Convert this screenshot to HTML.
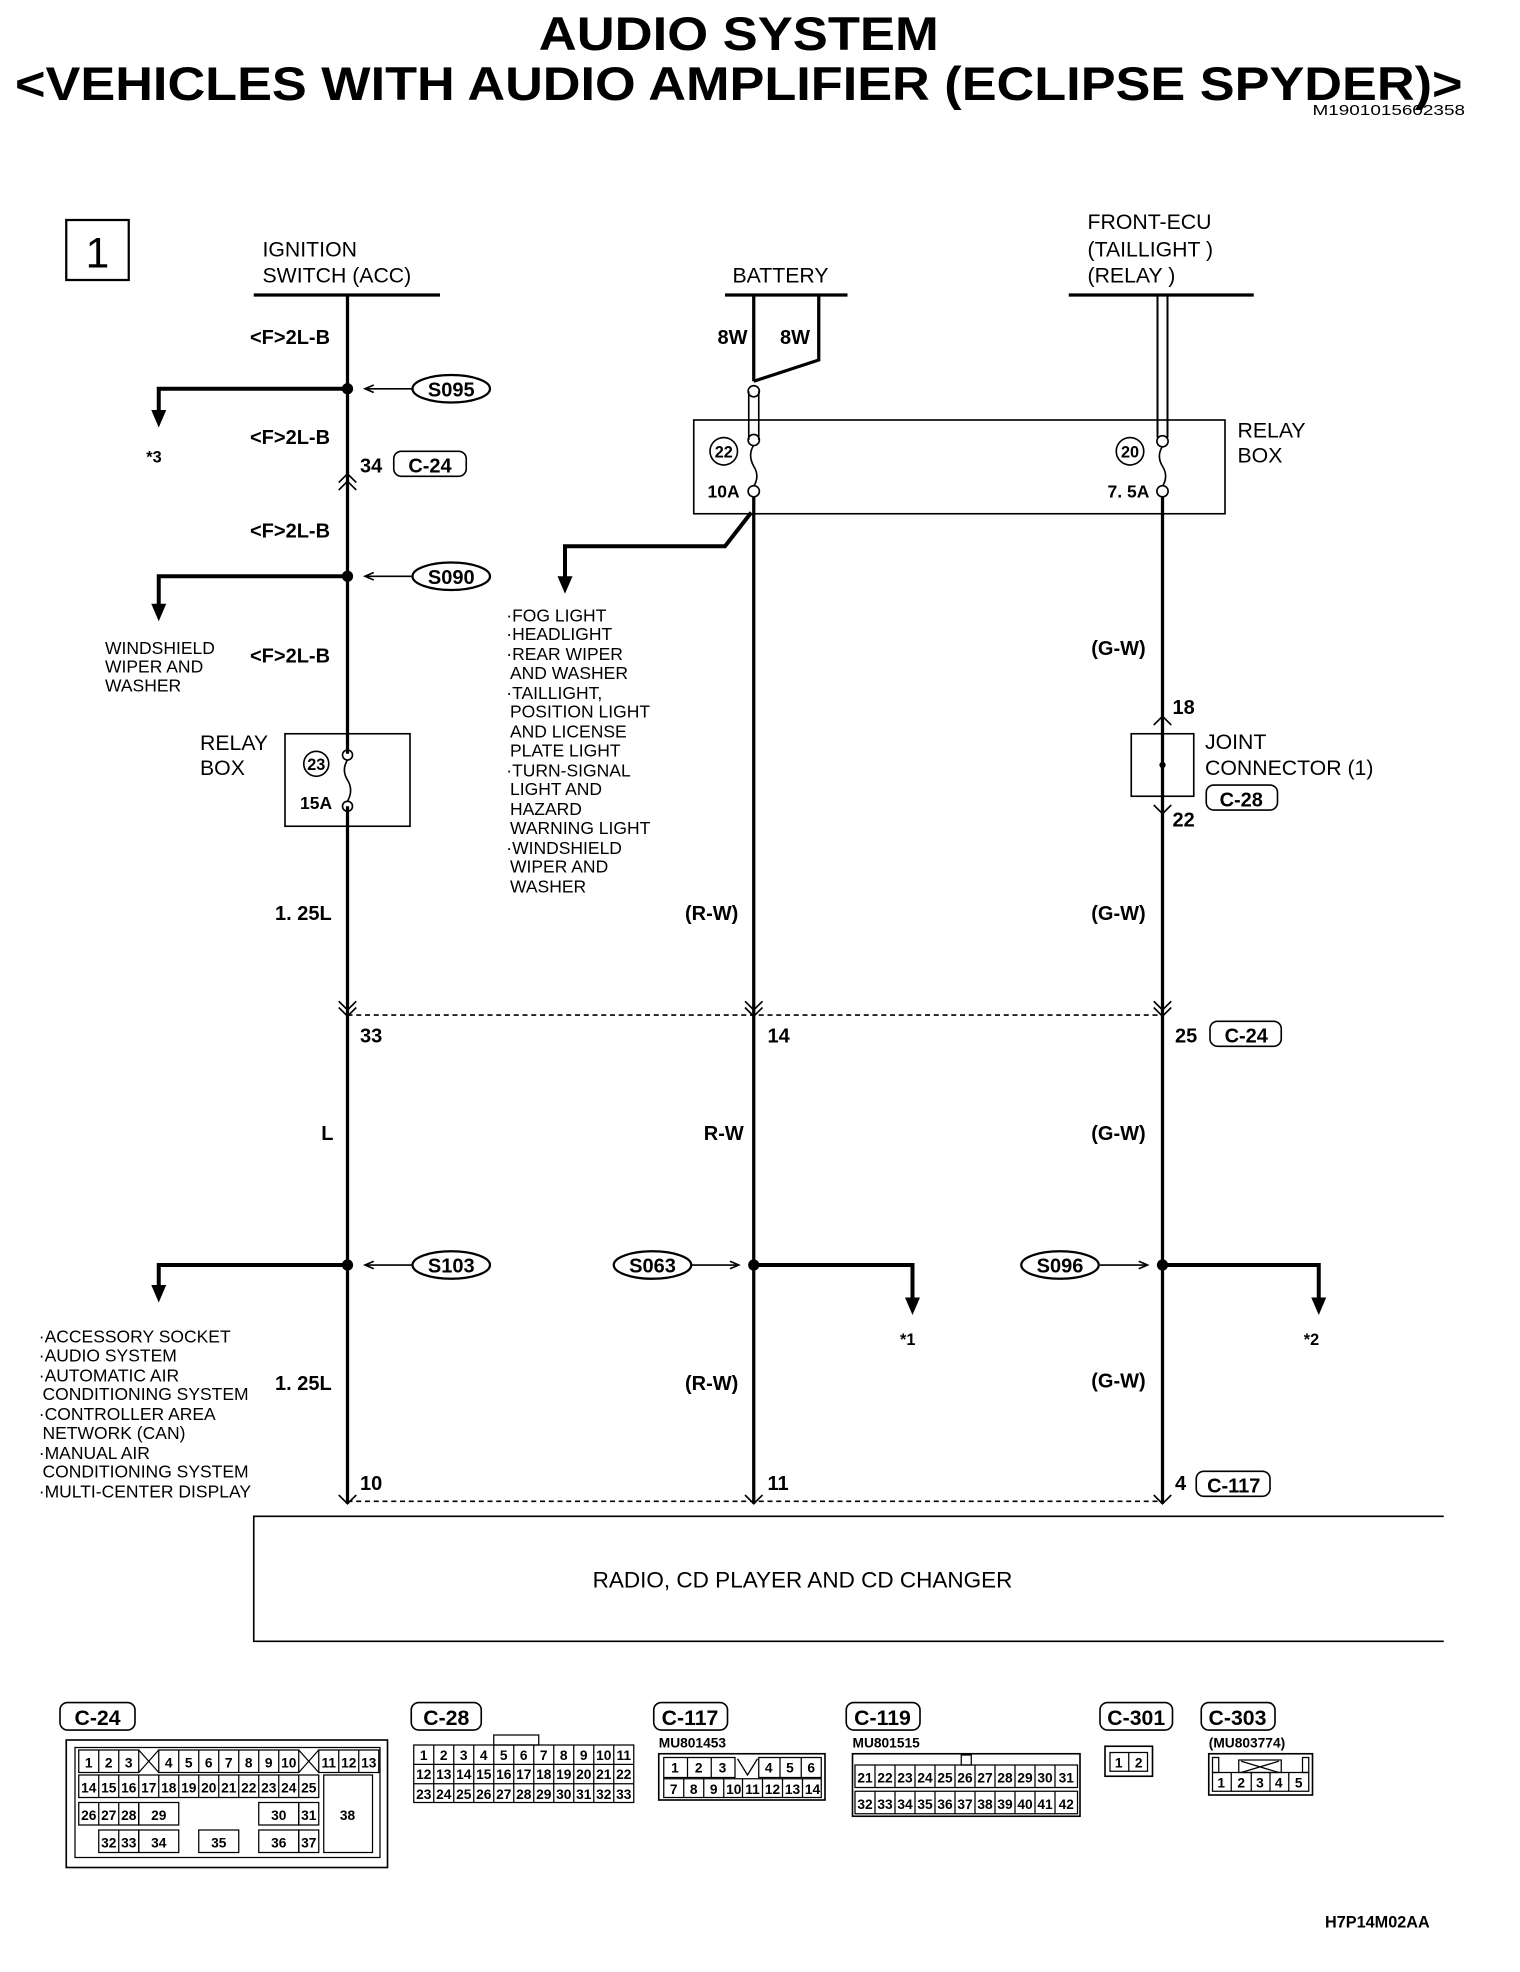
<!DOCTYPE html>
<html><head><meta charset="utf-8"><style>
html,body{margin:0;padding:0;background:#fff;}
svg{display:block;}
text{font-family:"Liberation Sans",sans-serif;fill:#000;}
.b{font-weight:bold;font-size:16px;}
.n{font-size:14px;}
.c{font-weight:bold;font-size:11px;text-anchor:middle;}
.w{stroke:#000;stroke-width:2.6;fill:none;}
.t{stroke:#000;stroke-width:1.3;fill:none;}
.k{stroke:#000;stroke-width:3.2;fill:none;}
</style></head><body>
<svg width="1520" height="1972" viewBox="0 0 1216 1577.6" xmlns="http://www.w3.org/2000/svg">
<rect width="1216" height="1578" fill="#fff"/>
<!-- title -->
<text x="591" y="40" text-anchor="middle" style="font-weight:bold;font-size:38px" textLength="320" lengthAdjust="spacingAndGlyphs">AUDIO SYSTEM</text>
<text x="12" y="80" style="font-weight:bold;font-size:38px" textLength="1158" lengthAdjust="spacingAndGlyphs">&lt;VEHICLES WITH AUDIO AMPLIFIER (ECLIPSE SPYDER)&gt;</text>
<text x="1050" y="92" style="font-size:12px" textLength="122" lengthAdjust="spacingAndGlyphs">M1901015602358</text>
<rect x="53" y="176" width="50" height="48" class="t" style="stroke-width:1.8"/>
<text x="78" y="214" text-anchor="middle" style="font-size:34px">1</text>

<!-- headers -->
<text x="210" y="205" class="n" style="font-size:17px">IGNITION</text>
<text x="210" y="226" class="n" style="font-size:17px">SWITCH (ACC)</text>
<line x1="203" y1="236" x2="352" y2="236" class="w"/>
<text x="586" y="226" class="n" style="font-size:17px">BATTERY</text>
<line x1="580" y1="236" x2="678" y2="236" class="w"/>
<text x="870" y="183" class="n" style="font-size:17px">FRONT-ECU</text>
<text x="870" y="205" class="n" style="font-size:17px">(TAILLIGHT )</text>
<text x="870" y="226" class="n" style="font-size:17px">(RELAY )</text>
<line x1="855" y1="236" x2="1003" y2="236" class="w"/>

<!-- wire 1 -->
<line x1="278" y1="236" x2="278" y2="603" class="w"/>
<line x1="278" y1="645" x2="278" y2="1203" class="w"/>
<text x="200" y="275" class="b">&lt;F&gt;2L-B</text>
<circle cx="278" cy="311" r="4.5"/>
<polyline points="278,311 127,311 127,330" class="k"/><polygon points="121,328 133,328 127,342"/>
<text x="117" y="370" class="b" style="font-size:13px">*3</text>
<line x1="293" y1="311" x2="330" y2="311" class="t"/><polyline points="299,308 292,311 299,314" class="t"/>
<ellipse cx="361" cy="311" rx="31" ry="11" class="t" style="stroke-width:1.8"/><text x="361" y="317" text-anchor="middle" class="b">S095</text>
<text x="200" y="355" class="b">&lt;F&gt;2L-B</text>
<text x="288" y="378" class="b">34</text>
<rect x="315" y="361" width="58" height="20" rx="6" class="t"/><text x="344" y="378" text-anchor="middle" class="b">C-24</text>
<polyline points="271,386 278,379 285,386" class="t"/><polyline points="271,392 278,385 285,392" class="t"/>
<text x="200" y="430" class="b">&lt;F&gt;2L-B</text>
<circle cx="278" cy="461" r="4.5"/>
<polyline points="278,461 127,461 127,485" class="k"/><polygon points="121,483 133,483 127,497"/>
<line x1="293" y1="461" x2="330" y2="461" class="t"/><polyline points="299,458 292,461 299,464" class="t"/>
<ellipse cx="361" cy="461" rx="31" ry="11" class="t" style="stroke-width:1.8"/><text x="361" y="467" text-anchor="middle" class="b">S090</text>
<text x="84" y="523" class="n">WINDSHIELD</text><text x="84" y="538" class="n">WIPER AND</text><text x="84" y="553" class="n">WASHER</text>
<text x="200" y="530" class="b">&lt;F&gt;2L-B</text>
<text x="160" y="600" class="n" style="font-size:17px">RELAY</text><text x="160" y="620" class="n" style="font-size:17px">BOX</text>
<rect x="228" y="587" width="100" height="74" class="t"/>
<circle cx="253" cy="611" r="10" class="t"/><text x="253" y="616" text-anchor="middle" class="b" style="font-size:13px">23</text>
<text x="240" y="647" class="b" style="font-size:14px">15A</text>
<circle cx="278" cy="604" r="4" class="t"/><circle cx="278" cy="645" r="4" class="t"/>
<path d="M278,608 q-5,8 0,16 q5,8 0,17" class="t"/>
<text x="220" y="736" class="b">1. 25L</text>

<!-- wire 2 -->
<line x1="603" y1="236" x2="603" y2="305" class="w"/>
<polyline points="655,236 655,288 603,305" class="w"/>
<text x="574" y="275" class="b">8W</text><text x="624" y="275" class="b">8W</text>
<rect x="555" y="336" width="425" height="75" class="t"/>
<circle cx="603" cy="313" r="4.5" class="t"/><circle cx="603" cy="352" r="4.5" class="t"/>
<line x1="599" y1="313" x2="599" y2="352" class="t"/><line x1="607" y1="313" x2="607" y2="352" class="t"/>
<circle cx="603" cy="393" r="4.5" class="t"/>
<path d="M603,356 q-5,8 0,17 q5,8 0,16" class="t"/>
<circle cx="579" cy="361" r="11" class="t"/><text x="579" y="366" text-anchor="middle" class="b" style="font-size:13px">22</text>
<text x="566" y="398" class="b" style="font-size:14px">10A</text>
<line x1="603" y1="397" x2="603" y2="1203" class="w"/>
<polyline points="601,410 580,437 452,437 452,463" class="k"/><polygon points="446,461 458,461 452,475"/>
<g class="n">
<text x="405" y="497">·FOG LIGHT</text><text x="405" y="512">·HEADLIGHT</text><text x="405" y="528">·REAR WIPER</text><text x="408" y="543">AND WASHER</text>
<text x="405" y="559">·TAILLIGHT,</text><text x="408" y="574">POSITION LIGHT</text><text x="408" y="590">AND LICENSE</text><text x="408" y="605">PLATE LIGHT</text>
<text x="405" y="621">·TURN-SIGNAL</text><text x="408" y="636">LIGHT AND</text><text x="408" y="652">HAZARD</text><text x="408" y="667">WARNING LIGHT</text>
<text x="405" y="683">·WINDSHIELD</text><text x="408" y="698">WIPER AND</text><text x="408" y="714">WASHER</text>
</g>
<text x="548" y="736" class="b">(R-W)</text>

<!-- wire 3 -->
<line x1="926" y1="236" x2="926" y2="350" class="t" style="stroke-width:1.6"/><line x1="934" y1="236" x2="934" y2="350" class="t" style="stroke-width:1.6"/>
<circle cx="930" cy="353" r="4.5" class="t"/>
<circle cx="930" cy="393" r="4.5" class="t"/>
<path d="M930,357 q-5,8 0,16 q5,8 0,16" class="t"/>
<circle cx="904" cy="361" r="11" class="t"/><text x="904" y="366" text-anchor="middle" class="b" style="font-size:13px">20</text>
<text x="886" y="398" class="b" style="font-size:14px">7. 5A</text>
<text x="990" y="350" class="n" style="font-size:17px">RELAY</text><text x="990" y="370" class="n" style="font-size:17px">BOX</text>
<line x1="930" y1="397" x2="930" y2="1203" class="w"/>
<text x="873" y="524" class="b">(G-W)</text>
<text x="938" y="571" class="b">18</text>
<polyline points="923,580 930,573 937,580" class="t"/>
<rect x="905" y="587" width="50" height="50" class="t" fill="#fff"/><circle cx="930" cy="612" r="2.5"/>
<polyline points="923,644 930,651 937,644" class="t"/>
<text x="938" y="661" class="b">22</text>
<text x="964" y="599" class="n" style="font-size:17px">JOINT</text><text x="964" y="620" class="n" style="font-size:17px">CONNECTOR (1)</text>
<rect x="965" y="628" width="57" height="20" rx="6" class="t"/><text x="993" y="645" text-anchor="middle" class="b">C-28</text>
<text x="873" y="736" class="b">(G-W)</text>

<!-- connector C-24 line -->
<line x1="278" y1="812" x2="930" y2="812" class="t" stroke-dasharray="4,3"/>
<g class="t">
<polyline points="271,806 278,813 285,806"/><polyline points="271,801 278,808 285,801"/>
<polyline points="596,806 603,813 610,806"/><polyline points="596,801 603,808 610,801"/>
<polyline points="923,806 930,813 937,806"/><polyline points="923,801 930,808 937,801"/>
</g>
<text x="288" y="834" class="b">33</text><text x="614" y="834" class="b">14</text><text x="940" y="834" class="b">25</text>
<rect x="968" y="817" width="57" height="20" rx="6" class="t"/><text x="997" y="834" text-anchor="middle" class="b">C-24</text>
<text x="257" y="912" class="b">L</text><text x="563" y="912" class="b">R-W</text><text x="873" y="912" class="b">(G-W)</text>

<!-- splices lower -->
<circle cx="278" cy="1012" r="4.5"/>
<polyline points="278,1012 127,1012 127,1030" class="k"/><polygon points="121,1028 133,1028 127,1042"/>
<line x1="293" y1="1012" x2="330" y2="1012" class="t"/><polyline points="299,1009 292,1012 299,1015" class="t"/>
<ellipse cx="361" cy="1012" rx="31" ry="11" class="t" style="stroke-width:1.8"/><text x="361" y="1018" text-anchor="middle" class="b">S103</text>
<circle cx="603" cy="1012" r="4.5"/>
<polyline points="603,1012 730,1012 730,1040" class="k"/><polygon points="724,1038 736,1038 730,1052"/>
<text x="720" y="1076" class="b" style="font-size:13px">*1</text>
<line x1="553" y1="1012" x2="590" y2="1012" class="t"/><polyline points="584,1009 591,1012 584,1015" class="t"/>
<ellipse cx="522" cy="1012" rx="31" ry="11" class="t" style="stroke-width:1.8"/><text x="522" y="1018" text-anchor="middle" class="b">S063</text>
<circle cx="930" cy="1012" r="4.5"/>
<polyline points="930,1012 1055,1012 1055,1040" class="k"/><polygon points="1049,1038 1061,1038 1055,1052"/>
<text x="1043" y="1076" class="b" style="font-size:13px">*2</text>
<line x1="880" y1="1012" x2="917" y2="1012" class="t"/><polyline points="911,1009 918,1012 911,1015" class="t"/>
<ellipse cx="848" cy="1012" rx="31" ry="11" class="t" style="stroke-width:1.8"/><text x="848" y="1018" text-anchor="middle" class="b">S096</text>
<g class="n">
<text x="31" y="1074">·ACCESSORY SOCKET</text><text x="31" y="1089">·AUDIO SYSTEM</text><text x="31" y="1105">·AUTOMATIC AIR</text>
<text x="34" y="1120">CONDITIONING SYSTEM</text><text x="31" y="1136">·CONTROLLER AREA</text><text x="34" y="1151">NETWORK (CAN)</text>
<text x="31" y="1167">·MANUAL AIR</text><text x="34" y="1182">CONDITIONING SYSTEM</text><text x="31" y="1198">·MULTI-CENTER DISPLAY</text>
</g>
<text x="220" y="1112" class="b">1. 25L</text><text x="548" y="1112" class="b">(R-W)</text><text x="873" y="1110" class="b">(G-W)</text>
<text x="288" y="1192" class="b">10</text><text x="614" y="1192" class="b">11</text><text x="940" y="1192" class="b">4</text>
<rect x="957" y="1177" width="59" height="20" rx="6" class="t"/><text x="987" y="1194" text-anchor="middle" class="b">C-117</text>
<line x1="278" y1="1201" x2="930" y2="1201" class="t" stroke-dasharray="4,3"/>
<g class="t">
<polyline points="271,1196 278,1203 285,1196"/><polyline points="596,1196 603,1203 610,1196"/><polyline points="923,1196 930,1203 937,1196"/>
</g>
<polyline points="1155,1213 203,1213 203,1313 1155,1313" class="t"/>
<text x="642" y="1270" text-anchor="middle" class="n" style="font-size:18px">RADIO, CD PLAYER AND CD CHANGER</text>

<!-- connector labels -->
<g>
<rect x="48" y="1362" width="60" height="22" rx="6" class="t"/><text x="78" y="1380" text-anchor="middle" class="b" style="font-size:17px">C-24</text>
<rect x="329" y="1362" width="56" height="22" rx="6" class="t"/><text x="357" y="1380" text-anchor="middle" class="b" style="font-size:17px">C-28</text>
<rect x="523" y="1362" width="59" height="22" rx="6" class="t"/><text x="552" y="1380" text-anchor="middle" class="b" style="font-size:17px">C-117</text>
<rect x="677" y="1362" width="59" height="22" rx="6" class="t"/><text x="706" y="1380" text-anchor="middle" class="b" style="font-size:17px">C-119</text>
<rect x="880" y="1362" width="58" height="22" rx="6" class="t"/><text x="909" y="1380" text-anchor="middle" class="b" style="font-size:17px">C-301</text>
<rect x="961" y="1362" width="59" height="22" rx="6" class="t"/><text x="990" y="1380" text-anchor="middle" class="b" style="font-size:17px">C-303</text>
</g>

<!-- C-24 connector -->
<rect x="53" y="1392" width="257" height="102" class="t"/>
<rect x="60" y="1398" width="244" height="88" class="t" style="stroke-width:1"/>
<g class="t" style="stroke-width:1">
<rect x="63" y="1400" width="48" height="18"/><rect x="127" y="1400" width="112" height="18"/><rect x="255" y="1400" width="48" height="18"/>
<path d="M79,1400v18M95,1400v18M143,1400v18M159,1400v18M175,1400v18M191,1400v18M207,1400v18M223,1400v18M271,1400v18M287,1400v18"/>
<path d="M111,1400l16,18M127,1400l-16,18M239,1400l16,18M255,1400l-16,18"/>
<rect x="63" y="1420" width="192" height="18"/>
<path d="M79,1420v18M95,1420v18M111,1420v18M127,1420v18M143,1420v18M159,1420v18M175,1420v18M191,1420v18M207,1420v18M223,1420v18M239,1420v18"/>
<rect x="63" y="1442" width="48" height="18"/><path d="M79,1442v18M95,1442v18"/>
<rect x="111" y="1442" width="32" height="18"/><rect x="207" y="1442" width="32" height="18"/><rect x="239" y="1442" width="16" height="18"/>
<rect x="79" y="1464" width="32" height="18"/><path d="M95,1464v18"/>
<rect x="111" y="1464" width="32" height="18"/><rect x="159" y="1464" width="32" height="18"/><rect x="207" y="1464" width="32" height="18"/><rect x="239" y="1464" width="16" height="18"/>
<rect x="259" y="1420" width="39" height="62"/>
</g>
<g class="c">
<text x="71" y="1414">1</text><text x="87" y="1414">2</text><text x="103" y="1414">3</text><text x="135" y="1414">4</text><text x="151" y="1414">5</text><text x="167" y="1414">6</text><text x="183" y="1414">7</text><text x="199" y="1414">8</text><text x="215" y="1414">9</text><text x="231" y="1414">10</text><text x="263" y="1414">11</text><text x="279" y="1414">12</text><text x="295" y="1414">13</text>
<text x="71" y="1434">14</text><text x="87" y="1434">15</text><text x="103" y="1434">16</text><text x="119" y="1434">17</text><text x="135" y="1434">18</text><text x="151" y="1434">19</text><text x="167" y="1434">20</text><text x="183" y="1434">21</text><text x="199" y="1434">22</text><text x="215" y="1434">23</text><text x="231" y="1434">24</text><text x="247" y="1434">25</text>
<text x="71" y="1456">26</text><text x="87" y="1456">27</text><text x="103" y="1456">28</text><text x="127" y="1456">29</text><text x="223" y="1456">30</text><text x="247" y="1456">31</text>
<text x="87" y="1478">32</text><text x="103" y="1478">33</text><text x="127" y="1478">34</text><text x="175" y="1478">35</text><text x="223" y="1478">36</text><text x="247" y="1478">37</text>
<text x="278" y="1456">38</text>
</g>

<!-- C-28 -->
<g class="t" style="stroke-width:1">
<rect x="395" y="1388" width="36" height="8"/>
<rect x="331" y="1396" width="176" height="46"/>
<path d="M331,1411.5h176M331,1427h176M347,1396v46M363,1396v46M379,1396v46M395,1396v46M411,1396v46M427,1396v46M443,1396v46M459,1396v46M475,1396v46M491,1396v46"/>
</g>
<g class="c">
<text x="339" y="1408">1</text><text x="355" y="1408">2</text><text x="371" y="1408">3</text><text x="387" y="1408">4</text><text x="403" y="1408">5</text><text x="419" y="1408">6</text><text x="435" y="1408">7</text><text x="451" y="1408">8</text><text x="467" y="1408">9</text><text x="483" y="1408">10</text><text x="499" y="1408">11</text>
<text x="339" y="1423">12</text><text x="355" y="1423">13</text><text x="371" y="1423">14</text><text x="387" y="1423">15</text><text x="403" y="1423">16</text><text x="419" y="1423">17</text><text x="435" y="1423">18</text><text x="451" y="1423">19</text><text x="467" y="1423">20</text><text x="483" y="1423">21</text><text x="499" y="1423">22</text>
<text x="339" y="1439">23</text><text x="355" y="1439">24</text><text x="371" y="1439">25</text><text x="387" y="1439">26</text><text x="403" y="1439">27</text><text x="419" y="1439">28</text><text x="435" y="1439">29</text><text x="451" y="1439">30</text><text x="467" y="1439">31</text><text x="483" y="1439">32</text><text x="499" y="1439">33</text>
</g>

<!-- C-117 -->
<text x="527" y="1398" class="b" style="font-size:11px">MU801453</text>
<rect x="527" y="1403" width="133" height="37" class="t"/>
<g class="t" style="stroke-width:1">
<rect x="531" y="1406" width="57" height="16"/><rect x="607" y="1406" width="50" height="16"/>
<path d="M550,1406v16M569,1406v16M624,1406v16M641,1406v16M590,1407l8,13l8,-13"/>
<rect x="531" y="1423" width="126" height="15"/>
<path d="M547,1423v15M563,1423v15M579,1423v15M594,1423v15M610,1423v15M626,1423v15M642,1423v15"/>
</g>
<g class="c">
<text x="540" y="1418">1</text><text x="559" y="1418">2</text><text x="578" y="1418">3</text><text x="615" y="1418">4</text><text x="632" y="1418">5</text><text x="649" y="1418">6</text>
<text x="539" y="1435">7</text><text x="555" y="1435">8</text><text x="571" y="1435">9</text><text x="587" y="1435">10</text><text x="602" y="1435">11</text><text x="618" y="1435">12</text><text x="634" y="1435">13</text><text x="650" y="1435">14</text>
</g>

<!-- C-119 -->
<text x="682" y="1398" class="b" style="font-size:11px">MU801515</text>
<rect x="682" y="1403" width="182" height="50" class="t"/>
<g class="t" style="stroke-width:1">
<rect x="684" y="1412" width="178" height="18"/><rect x="684" y="1433" width="178" height="18"/>
<path d="M700,1412v18M716,1412v18M732,1412v18M748,1412v18M764,1412v18M780,1412v18M796,1412v18M812,1412v18M828,1412v18M844,1412v18"/>
<path d="M700,1433v18M716,1433v18M732,1433v18M748,1433v18M764,1433v18M780,1433v18M796,1433v18M812,1433v18M828,1433v18M844,1433v18"/>
<rect x="769" y="1404" width="8" height="8"/>
</g>
<g class="c">
<text x="692" y="1426">21</text><text x="708" y="1426">22</text><text x="724" y="1426">23</text><text x="740" y="1426">24</text><text x="756" y="1426">25</text><text x="772" y="1426">26</text><text x="788" y="1426">27</text><text x="804" y="1426">28</text><text x="820" y="1426">29</text><text x="836" y="1426">30</text><text x="853" y="1426">31</text>
<text x="692" y="1447">32</text><text x="708" y="1447">33</text><text x="724" y="1447">34</text><text x="740" y="1447">35</text><text x="756" y="1447">36</text><text x="772" y="1447">37</text><text x="788" y="1447">38</text><text x="804" y="1447">39</text><text x="820" y="1447">40</text><text x="836" y="1447">41</text><text x="853" y="1447">42</text>
</g>

<!-- C-301 -->
<rect x="884" y="1397" width="38" height="24" class="t"/>
<rect x="888" y="1402" width="30" height="15" class="t" style="stroke-width:1"/><line x1="903" y1="1402" x2="903" y2="1417" class="t" style="stroke-width:1"/>
<text x="895" y="1414" class="c">1</text><text x="911" y="1414" class="c">2</text>

<!-- C-303 -->
<text x="967" y="1398" class="b" style="font-size:11px">(MU803774)</text>
<rect x="967" y="1403" width="83" height="33" class="t"/>
<g class="t" style="stroke-width:1">
<rect x="970" y="1418" width="77" height="15"/>
<path d="M985,1418v15M1001,1418v15M1016,1418v15M1031,1418v15"/>
<rect x="970" y="1406" width="5" height="12"/><rect x="1042" y="1406" width="5" height="12"/>
<rect x="991" y="1408" width="34" height="10"/><path d="M993,1409l30,9M1023,1409l-30,9"/>
</g>
<g class="c"><text x="977" y="1430">1</text><text x="993" y="1430">2</text><text x="1008" y="1430">3</text><text x="1023" y="1430">4</text><text x="1039" y="1430">5</text></g>

<text x="1060" y="1542" class="b" style="font-size:13px">H7P14M02AA</text>
</svg>
</body></html>
